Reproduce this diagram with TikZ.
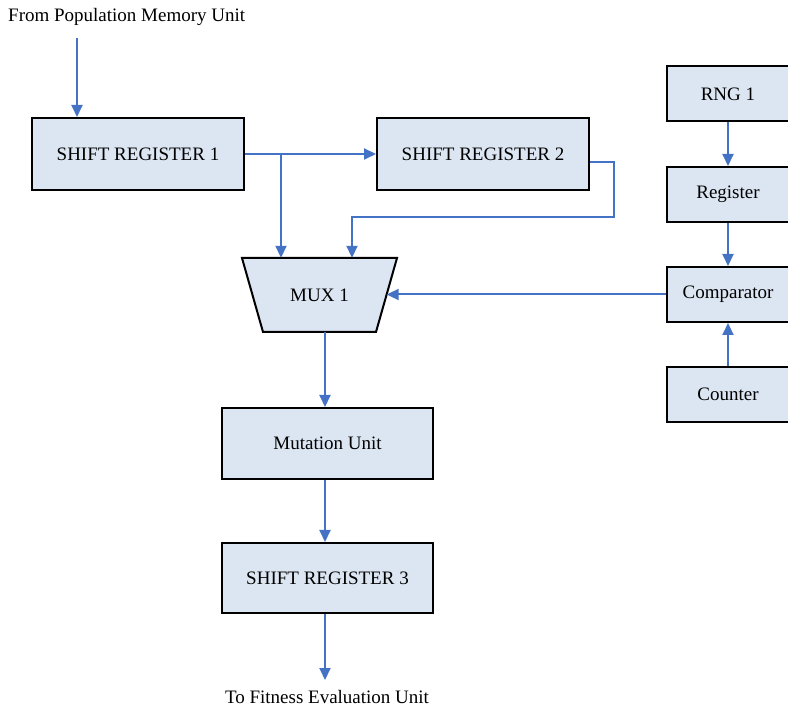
\documentclass[tikz,border=0pt]{standalone}
\usepackage{fontspec}
\setmainfont{Liberation Serif}
\usetikzlibrary{arrows.meta}

\definecolor{boxfill}{RGB}{220,230,242}
\definecolor{flowblue}{RGB}{68,114,196}

\tikzset{
  unit/.style={draw=black, line width=2pt, fill=boxfill, rectangle,
    inner sep=0pt, font=\fontsize{19}{22}\selectfont},
  flow/.style={draw=flowblue, line width=2pt,
    -{Triangle[length=12pt,width=11pt]}},
  label/.style={inner sep=0pt, font=\fontsize{19}{22}\selectfont}
}

\begin{document}
\begin{tikzpicture}[x=1pt,y=-1pt]
      \useasboundingbox (0,0) rectangle (788,708);

       \node(from)[label, anchor=west] at (8,17) {From Population Memory Unit};
       \node(to)[label, anchor=base] at (327,703) {To Fitness Evaluation Unit};

       \node(sra)[unit, minimum width=212pt, minimum height=72pt] at (138,154) {SHIFT REGISTER 1};
       \node(srb)[unit, minimum width=212pt, minimum height=72pt] at (483,154) {SHIFT REGISTER 2};

       % multiplexer body
       \coordinate(mtl) at (242,258);
       \coordinate(mtr) at (397,258);
       \coordinate(mbr) at (376,332);
       \coordinate(mbl) at (263,332);
       \draw[black, line width=2pt, fill=boxfill, line join=miter] (mtl) -- (mtr) -- (mbr) -- (mbl) -- cycle;
       \node(mux)[label, minimum width=155pt, minimum height=74pt] at (319.5,295) {MUX 1};

       \node(mut)[unit, minimum width=211pt, minimum height=71pt] at (327.5,443.5) {Mutation Unit};
       \node(src)[unit, minimum width=211pt, minimum height=70pt] at (327.5,578) {SHIFT REGISTER 3};

       \node(rng)[unit, minimum width=122pt, minimum height=55pt] at (728,94) {RNG 1};
       \node(reg)[unit, minimum width=122pt, minimum height=55pt] at (728,194.5) {Register};
       \node(cmp)[unit, minimum width=122pt, minimum height=55pt] at (728,294.5) {Comparator};
       \node(cnt)[unit, minimum width=122pt, minimum height=55pt] at (728,394.5) {Counter};

       \coordinate(in) at (77,38);
       \coordinate(split) at (281,154);
       \coordinate(bend) at (614,217);
       \coordinate(out) at (325,680);

       \draw[flow] (in) -- (in |- sra.north);
       \draw[flow] (sra.east) -- (srb.west);
       \draw[flow] (split) -- (split |- mux.north);
       \draw[flow] ([yshift=-8pt]srb.east) -| (bend) -| ([xshift=32.5pt]mux.north);

       \draw[flow] (rng) -- (reg);
       \draw[flow] (reg) -- (cmp);
       \draw[flow] (cnt) -- (cmp);
       \draw[flow] (cmp.west) -- ([xshift=-10.5pt]cmp.west -| mux.east);

       \draw[flow] (out |- mux.south) -- (out |- mut.north);
       \draw[flow] (out |- mut.south) -- (out |- src.north);
       \draw[flow] (out |- src.south) -- (out);
     \end{tikzpicture}
\end{document}
